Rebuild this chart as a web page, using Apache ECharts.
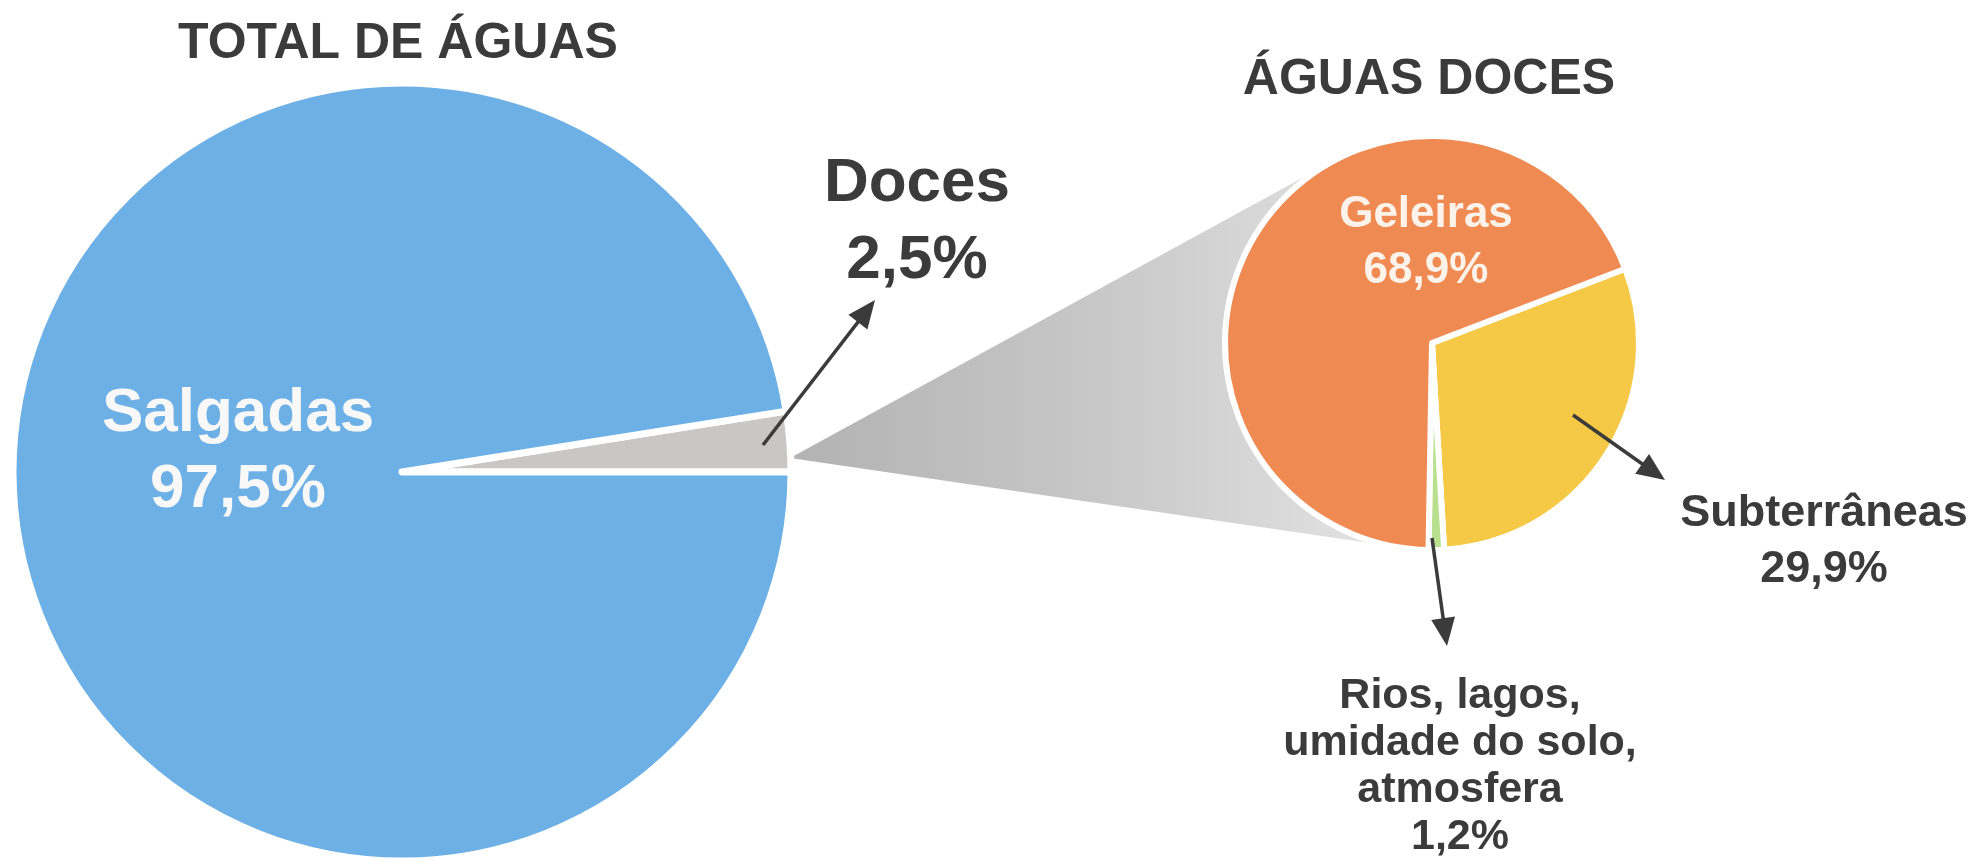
<!DOCTYPE html>
<html><head><meta charset="utf-8">
<style>html,body{margin:0;padding:0;background:#fff;overflow:hidden}#c{width:1980px;height:862px}</style>
<script src="https://cdn.jsdelivr.net/npm/echarts@6/dist/echarts.min.js"></script>
</head><body><div id="c"></div>
<script>
// ---- data ----
const titles = ['TOTAL DE ÁGUAS', 'ÁGUAS DOCES'];
const totalNames = ['Doces', 'Salgadas'];
const totalValues = [2.5, 97.5];
const freshNames = ['Subterrâneas', 'Rios, lagos,\numidade do solo,\natmosfera', 'Geleiras'];
const freshValues = [29.9, 1.2, 68.9];

// ---- styles / layout ----
const FONT = '"Liberation Sans", Arial, Helvetica, sans-serif';
const DARK = '#3b3b3b';
const totalColors = ['#c9c7c5', '#6db0e6'];
const freshColors = ['#f5c945', '#b9e08e', '#ef8b52'];
const P1 = { c: [402, 472], r: 389, start: 9 };
const P2 = { c: [1432, 343], r: 207, start: 21 };
const titlePos = [[398, 44], [1429, 80]];
const labelStyle = [
  [ { x: 917, y: 222, color: DARK, size: 62, lh: 77 },
    { x: 238, y: 452, color: '#f8f8f8', size: 62, lh: 76 } ],
  [ { x: 1824, y: 542, color: DARK, size: 45, lh: 56 },
    { x: 1460, y: 767, color: DARK, size: 43, lh: 47 },
    { x: 1426, y: 243, color: '#fdf3ea', size: 44, lh: 56 } ]
];
const arrows = [
  [[763, 445], [875, 300]],
  [[1573, 415], [1665, 480]],
  [[1432, 538], [1447, 646]]
];
const coneApex = [790, 458];

function fmt(v) { return v.toFixed(1).replace('.', ',') + '%'; }

function buildData(names, values, colors, styles) {
  return names.map((n, i) => ({
    name: n, value: values[i],
    itemStyle: { color: colors[i] },
    label: {
      color: styles[i].color, fontSize: styles[i].size, lineHeight: styles[i].lh,
      fontWeight: 'bold', fontFamily: FONT,
      formatter: p => p.name + '\n' + fmt(p.value)
    }
  }));
}

function arrow(tail, tip) {
  const dx = tip[0] - tail[0], dy = tip[1] - tail[1];
  const len = Math.sqrt(dx * dx + dy * dy);
  const ux = dx / len, uy = dy / len;
  const hl = 28, hw = 12;
  const bx = tip[0] - ux * hl, by = tip[1] - uy * hl;
  return [
    { type: 'line', z: 10, shape: { x1: tail[0], y1: tail[1], x2: bx + ux * 2, y2: by + uy * 2 },
      style: { stroke: DARK, lineWidth: 3.5 } },
    { type: 'polygon', z: 10, shape: { points: [tip, [bx - uy * hw, by + ux * hw], [bx + uy * hw, by - ux * hw]] },
      style: { fill: DARK } }
  ];
}

function cone() {
  const A = coneApex, C = P2.c, r = P2.r;
  const dx = C[0] - A[0], dy = C[1] - A[1];
  const d = Math.sqrt(dx * dx + dy * dy);
  const th = Math.atan2(dy, dx), al = Math.asin(r / d);
  const L = Math.sqrt(d * d - r * r);
  const T1 = [A[0] + L * Math.cos(th - al), A[1] + L * Math.sin(th - al)];
  const T2 = [A[0] + L * Math.cos(th + al), A[1] + L * Math.sin(th + al)];
  return {
    type: 'polygon', z: 1,
    shape: { points: [A, T1, C, T2] },
    style: {
      fill: new echarts.graphic.LinearGradient(A[0], 0, C[0], 0, [
        { offset: 0, color: '#b2b2b2' },
        { offset: 0.45, color: '#c6c6c6' },
        { offset: 0.75, color: '#d8d8d8' },
        { offset: 1, color: '#e8e8e8' }
      ], true)
    }
  };
}

const chart = echarts.init(document.getElementById('c'), null, { renderer: 'canvas' });
const graphics = [cone()];
titles.forEach((t, i) => graphics.push({
  type: 'text', z: 10, x: titlePos[i][0], y: titlePos[i][1],
  style: { text: t, align: 'center', verticalAlign: 'middle', fill: DARK,
    font: 'bold 50px ' + FONT }
}));
arrows.forEach(a => graphics.push(...arrow(a[0], a[1])));

function pieSeries(cfg, data, idx) {
  return {
    type: 'pie', z: 2, silent: true, animation: false,
    center: cfg.c, radius: cfg.r, startAngle: cfg.start, clockwise: true,
    avoidLabelOverlap: false,
    itemStyle: { borderColor: '#ffffff', borderWidth: idx === 0 ? 7 : 6 },
    label: { show: true, position: 'inside' },
    labelLine: { show: false },
    labelLayout: p => {
      const s = labelStyle[idx][p.dataIndex];
      return { x: s.x, y: s.y, align: 'center', verticalAlign: 'middle' };
    },
    data: data
  };
}

chart.setOption({
  animation: false,
  backgroundColor: '#ffffff',
  graphic: { elements: graphics },
  series: [
    pieSeries(P1, buildData(totalNames, totalValues, totalColors, labelStyle[0]), 0),
    pieSeries(P2, buildData(freshNames, freshValues, freshColors, labelStyle[1]), 1)
  ]
});
</script></body></html>
